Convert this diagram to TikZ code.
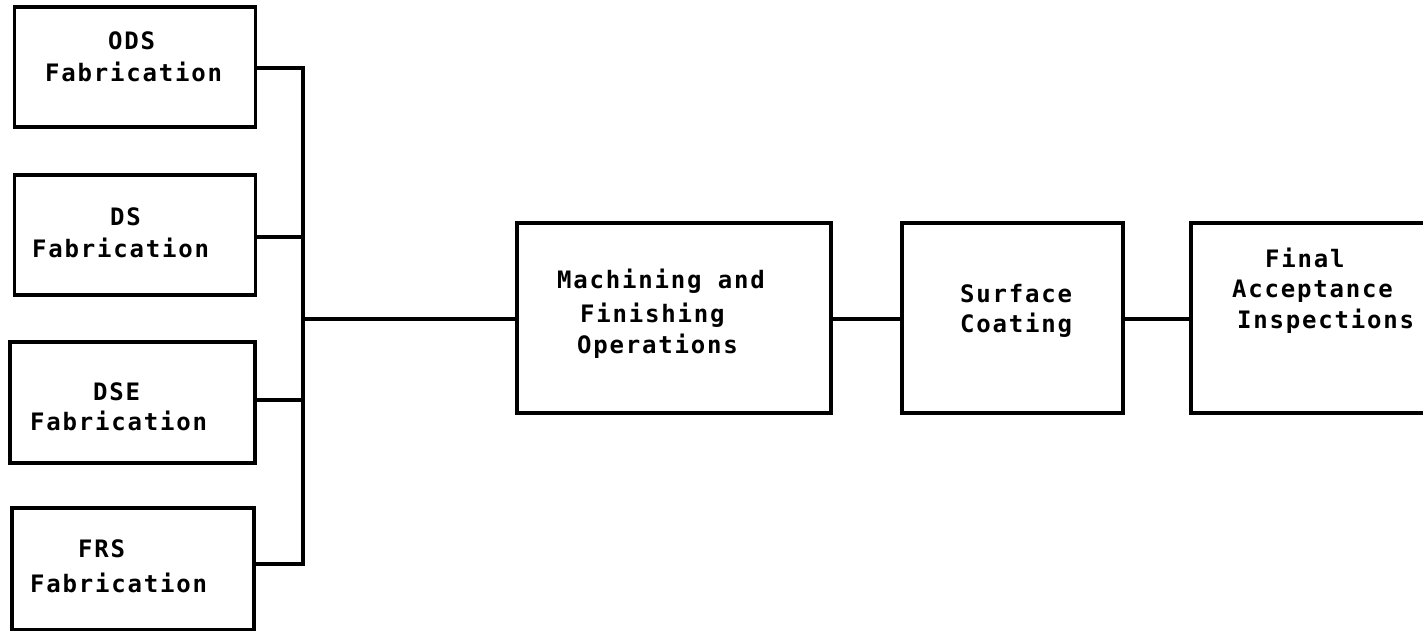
\documentclass[tikz,border=0pt]{standalone}
\usepackage{fontspec}
\newfontfamily\typefont[LetterSpace=7.5]{DejaVu Sans Mono Bold}
\begin{document}
\begin{tikzpicture}[x=1pt,y=-1pt,
  stepbox/.style={draw=black,line width=3.6pt,rectangle,inner sep=0pt},
  wire/.style={draw=black,line width=3.2pt},
  lbl/.style={anchor=base west,inner sep=0pt,font=\typefont\fontsize{24}{28}\selectfont}]
  \clip (0,0) rectangle (1423,631);
  \fill[white] (0,0) rectangle (1423,631);

  % source fabrication blocks
  \node[stepbox,minimum width=241pt,minimum height=120pt] (ods) at (135,67) {};
  \node[stepbox,minimum width=241pt,minimum height=120pt] (ds)  at (135,235) {};
  \node[stepbox,minimum width=245pt,minimum height=121pt] (dse) at (132.5,402.5) {};
  \node[stepbox,minimum width=242pt,minimum height=122pt] (frs) at (133,569) {};

  % downstream process blocks
  \node[stepbox,minimum width=314pt,minimum height=190pt] (mach) at (674,318) {};
  \node[stepbox,minimum width=221pt,minimum height=190pt] (coat) at (1012.5,318) {};
  \node[stepbox,minimum width=249pt,minimum height=190pt] (insp) at (1315.5,318) {};

  % labels
  \node[lbl] (t1a) at (108,50) {ODS};
  \node[lbl] (t1b) at (45,82) {Fabrication};
  \node[lbl] (t2a) at (110,225) {DS};
  \node[lbl] (t2b) at (32,257) {Fabrication};
  \node[lbl] (t3a) at (93,400) {DSE};
  \node[lbl] (t3b) at (30,430) {Fabrication};
  \node[lbl] (t4a) at (78,557) {FRS};
  \node[lbl] (t4b) at (30,592) {Fabrication};
  \node[lbl] (t5a) at (557,288) {Machining and};
  \node[lbl] (t5b) at (580,322) {Finishing};
  \node[lbl] (t5c) at (577,353) {Operations};
  \node[lbl] (t6a) at (960,302) {Surface};
  \node[lbl] (t6b) at (960,332) {Coating};
  \node[lbl] (t7a) at (1265,267) {Final};
  \node[lbl] (t7b) at (1232,297) {Acceptance};
  \node[lbl] (t7c) at (1237,328) {Inspections};

  % collecting bus
  \coordinate (j1) at (303,68);
  \coordinate (j2) at (303,237);
  \coordinate (j3) at (303,400);
  \coordinate (j4) at (303,564);
  \coordinate (jm) at (303,319);

  \draw[wire] (ods.east |- j1) -- (j1) -- (j4) -- (frs.east |- j4);
  \draw[wire] (ds.east |- j2) -- (j2);
  \draw[wire] (dse.east |- j3) -- (j3);
  \draw[wire] (jm) -- (mach.west |- jm);
  \draw[wire] (mach.east |- jm) -- (coat.west |- jm);
  \draw[wire] (coat.east |- jm) -- (insp.west |- jm);
\end{tikzpicture}
\end{document}
